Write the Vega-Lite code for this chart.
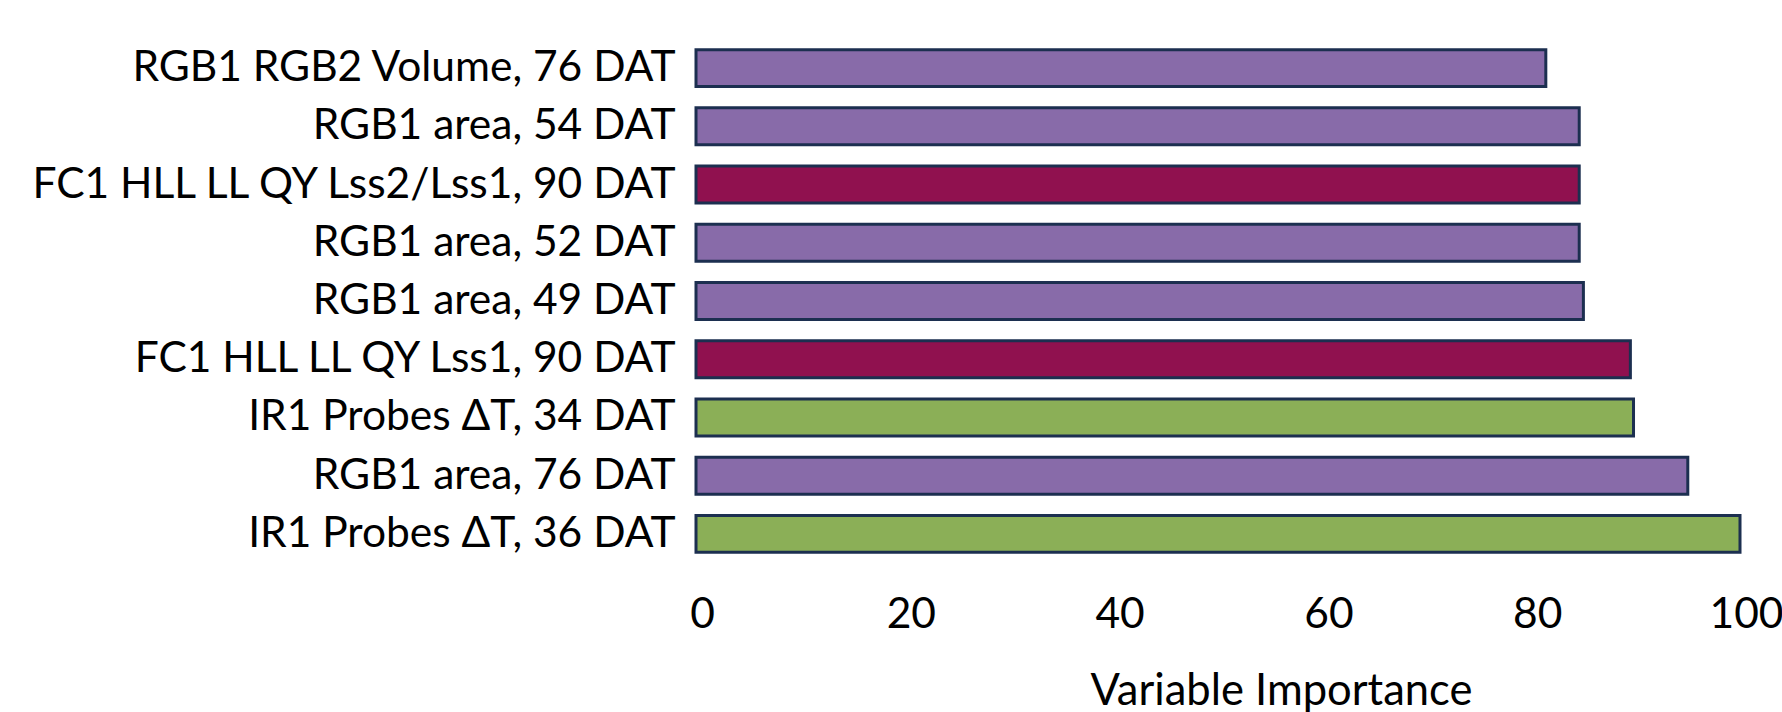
{
  "$schema": "https://vega.github.io/schema/vega-lite/v6.json",
  "width": 1044,
  "height": 524,
  "autosize": {"type": "none"},
  "padding": {"left": 696, "top": 39, "right": 42, "bottom": 149},
  "background": "white",
  "config": {"view": {"stroke": null}, "font": "Lato"},
  "data": {
    "values": [
      {"variable": "RGB1 RGB2 Volume, 76 DAT", "importance": 81.4, "group": "RGB"},
      {"variable": "RGB1 area, 54 DAT", "importance": 84.6, "group": "RGB"},
      {"variable": "FC1 HLL LL QY Lss2/Lss1, 90 DAT", "importance": 84.6, "group": "FC"},
      {"variable": "RGB1 area, 52 DAT", "importance": 84.6, "group": "RGB"},
      {"variable": "RGB1 area, 49 DAT", "importance": 85.0, "group": "RGB"},
      {"variable": "FC1 HLL LL QY Lss1, 90 DAT", "importance": 89.5, "group": "FC"},
      {"variable": "IR1 Probes ΔT, 34 DAT", "importance": 89.8, "group": "IR"},
      {"variable": "RGB1 area, 76 DAT", "importance": 95.0, "group": "RGB"},
      {"variable": "IR1 Probes ΔT, 36 DAT", "importance": 100, "group": "IR"}
    ]
  },
  "mark": {"type": "bar", "stroke": "#1C2F50", "strokeWidth": 3},
  "encoding": {
    "y": {
      "field": "variable",
      "type": "nominal",
      "sort": null,
      "scale": {"paddingInner": 0.365, "paddingOuter": 0.1825},
      "axis": {
        "title": null,
        "ticks": false,
        "domain": false,
        "labelPadding": 21,
        "labelFontSize": 42.5,
        "labelColor": "#000000",
        "labelLimit": 0,
        "labelFont": "Lato"
      }
    },
    "x": {
      "field": "importance",
      "type": "quantitative",
      "scale": {"domain": [0, 100], "nice": false},
      "axis": {
        "values": [0, 20, 40, 60, 80, 100],
        "grid": false,
        "ticks": false,
        "domain": false,
        "labelFontSize": 42.5,
        "labelColor": "#000000",
        "labelFont": "Lato",
        "labelBaseline": "alphabetic",
        "labelPadding": 64,
        "labelOffset": 6,
        "labelFlush": false,
        "labelOverlap": false,
        "title": "Variable Importance",
        "titleFont": "Lato",
        "titleFontSize": 43.5,
        "titleFontWeight": "normal",
        "titleColor": "#000000",
        "titleX": 585,
        "titleY": 141,
        "titleAlign": "center",
        "titleBaseline": "alphabetic"
      }
    },
    "color": {
      "field": "group",
      "type": "nominal",
      "scale": {"domain": ["RGB", "FC", "IR"], "range": ["#886BA9", "#90114F", "#8BAF57"]},
      "legend": null
    }
  }
}
